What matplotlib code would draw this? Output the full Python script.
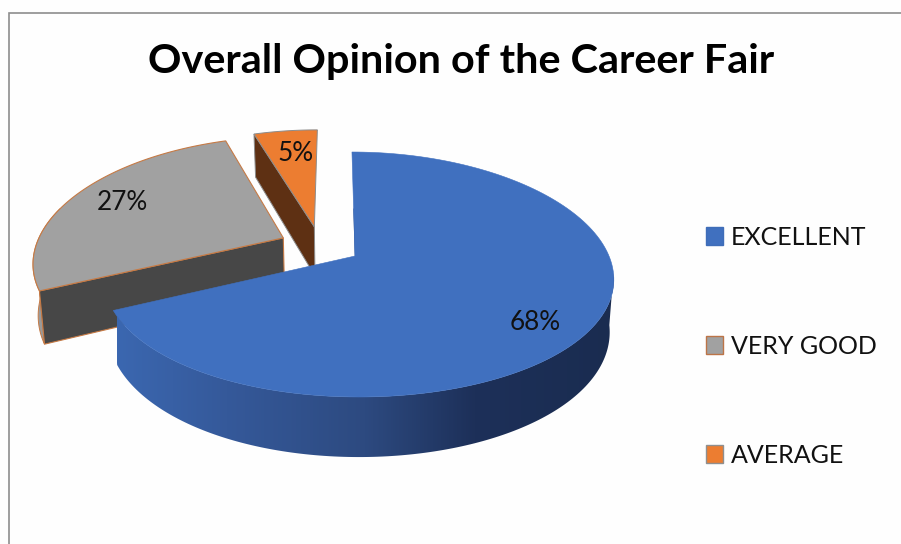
import numpy as np
import matplotlib
matplotlib.use("Agg")
import matplotlib.pyplot as plt
from matplotlib.patches import Patch, Polygon
from matplotlib.colors import LinearSegmentedColormap

# Survey results
categories = ["EXCELLENT", "VERY GOOD", "AVERAGE"]
shares = [68, 27, 5]
title_text = "Overall Opinion of the Career Fair"

top_colors = ["#4070BF", "#A1A1A1", "#EC7D31"]
face_colors = ["#2E4B80", "#474747", "#5E3013"]
rim_colors = ["#2E4B80", "#9A9A9A", "#8A4A20"]
edge_colors = ["#4070BF", "#C67A45", "#8C8C8C"]
legend_edges = ["#3F6DB8", "#BC7447", "#8F8F8F"]
label_xy = [(535, 323), (122, 202.5), (296, 153.5)]
slice_radii = [1.0, 1.02, 1.0]

# Projection of the tilted disc into figure pixels
X0, Y0 = 355.0, 256.0
RX, RX_SKEW, RY = 251.0, 3.0, 119.7
PERSPECTIVE_X, PERSPECTIVE_Y, SHEAR = 0.18, 0.151, 3.5
DEPTH, DEPTH_SHRINK = 51.0, 0.984
EXPLODE = 0.166

plt.rcParams["font.family"] = ["Lato", "DejaVu Sans"]
fig = plt.figure(figsize=(9.01, 5.44), dpi=100, facecolor="#FEFEFE")
ax = fig.add_axes([0, 0, 1, 1])
ax.set_xlim(0, 901)
ax.set_ylim(544, 0)
ax.axis("off")


def project(wx, wv, drop=False):
    px = 1.0 / (1.0 - PERSPECTIVE_X * wv)
    py = 1.0 / (1.0 - PERSPECTIVE_Y * wv)
    x = X0 + (RX + RX_SKEW * wx) * wx * px + SHEAR * wv * py
    y = Y0 + RY * wv * py
    if drop:
        x = X0 + (x - X0) * DEPTH_SHRINK
        y = y + DEPTH * py
    return np.column_stack([np.atleast_1d(x), np.atleast_1d(y)])


def unit(deg):
    r = np.radians(deg)
    return np.sin(r), -np.cos(r)


edges = np.concatenate([[0], np.cumsum(shares)]) * 360.0 / sum(shares)
mids = (edges[:-1] + edges[1:]) / 2
base_dir = np.array(unit(mids[0]))
offsets = [EXPLODE * (np.array(unit(m)) - base_dir) for m in mids]


def arc(i, start, stop, drop=False, n=160):
    ang = np.linspace(start, stop, n)
    ux, uv = unit(ang)
    r = slice_radii[i]
    return project(r * ux + offsets[i][0], r * uv + offsets[i][1], drop)


def apex(i, drop=False):
    return project(offsets[i][0], offsets[i][1], drop)


def top_polygon(i):
    return np.vstack([apex(i), arc(i, edges[i], edges[i + 1])])


def corner_face(i, angle):
    corner = arc(i, angle, angle, n=1)
    corner_low = arc(i, angle, angle, True, n=1)
    return np.vstack([apex(i), corner, corner_low, apex(i, True)])


def add_poly(pts, face, edge="none", lw=0.0, z=1):
    patch = Polygon(pts, closed=True, facecolor=face, edgecolor=edge, linewidth=lw, zorder=z)
    ax.add_patch(patch)
    return patch


# Back slice
add_poly(corner_face(2, edges[2]), face_colors[2], edge_colors[2], 0.7, z=1)
add_poly(top_polygon(2), top_colors[2], edge_colors[2], 0.7, z=2)

# Left slice with its short curved wall and cut face
low = arc(1, edges[1], 285, True)
high = arc(1, edges[1], 285)
add_poly(np.vstack([high, low[::-1]]), rim_colors[1], edge_colors[1], 0.7, z=3)
add_poly(corner_face(1, edges[1]), face_colors[1], edge_colors[1], 0.8, z=4)
add_poly(top_polygon(1), top_colors[1], edge_colors[1], 0.8, z=5)

# Front slice: curved wall shaded left to right, starting at the right-hand extreme
high = arc(0, 98, edges[1])
low = arc(0, 98, edges[1], True)
wall = add_poly(np.vstack([high, low[::-1]]), "none", z=6)
shade = LinearSegmentedColormap.from_list(
    "wall", [(0.0, "#3B67B0"), (0.22, "#35599A"), (0.5, "#2D4A80"), (0.72, "#1D3059"), (1.0, "#1A2C50")]
)
xs = np.linspace(0, 1, 512).reshape(1, -1)
x_left, x_right = low[:, 0].min(), max(high[:, 0].max(), low[:, 0].max())
img = ax.imshow(xs, cmap=shade, extent=(x_left, x_right, 470, 250), aspect="auto", zorder=6)
img.set_clip_path(wall)
ax.set_xlim(0, 901)
ax.set_ylim(544, 0)

# Thin shadow along the upper cut edge of the front slice
edge_end = arc(0, 0, 0, n=1)[0]
edge_mid = apex(0)[0] + 0.45 * (edge_end - apex(0)[0])
ax.plot([edge_mid[0] + 0.4, apex(0)[0][0] + 0.4], [edge_mid[1], apex(0)[0][1]],
        color="#2E4B80", linewidth=1.0, zorder=6.5)
add_poly(top_polygon(0), top_colors[0], top_colors[0], 0.4, z=7)

# Value labels
for share, (lx, ly) in zip(shares, label_xy):
    ax.text(lx, ly, f"{share}%", fontsize=18.8, color="#111111", ha="center", va="center", zorder=9)

# Title
ax.text(461.5, 61.5, title_text, fontsize=29.8, fontweight="bold", color="#000000",
        ha="center", va="center", zorder=9)

# Legend
handles = [Patch(facecolor=c, edgecolor=e, linewidth=1.0, label=n)
           for c, e, n in zip(top_colors, legend_edges, categories)]
leg = ax.legend(handles=handles, loc="upper left", bbox_to_anchor=(706 / 901, 1 - 226 / 544),
                frameon=False, fontsize=18, handlelength=0.68, handleheight=0.72,
                handletextpad=0.32, labelspacing=3.44, borderpad=0, borderaxespad=0,
                labelcolor="#111111")

# Chart frame
ax.plot([9, 9, 901], [544, 13, 13], color="#8E8E8E", linewidth=1.2, zorder=10, solid_joinstyle="miter")

fig.savefig("out.png", dpi=100, facecolor=fig.get_facecolor())
